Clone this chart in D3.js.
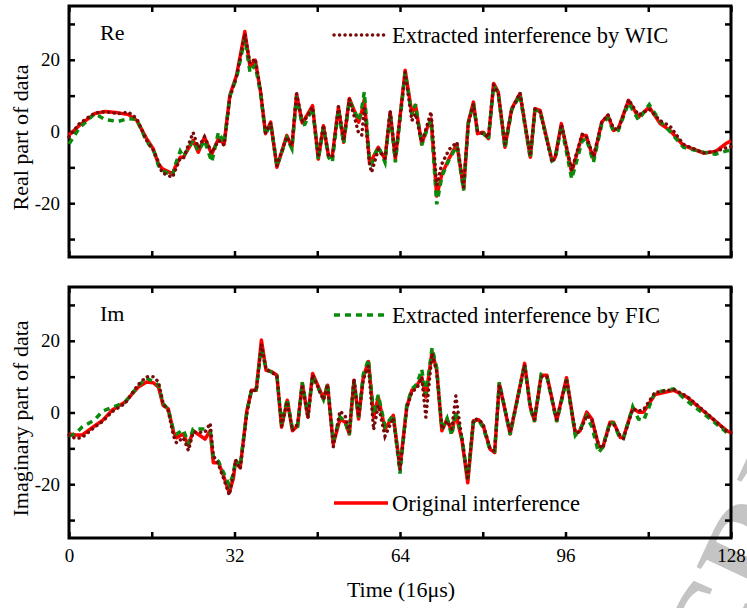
<!DOCTYPE html>
<html>
<head>
<meta charset="utf-8">
<script src="https://cdn.jsdelivr.net/npm/d3@7"></script>
<style>
  body { margin: 0; background: #fff; }
  svg { display: block; }
  text { font-family: "Liberation Serif", "Times New Roman", serif; fill: #000; }
</style>
</head>
<body>
<div id="chart"></div>
<script>
// ---- data (time in units of 16us) ----
var reTime = [0, 2, 5, 7, 9.5, 11.5, 13.1, 15, 16.3, 17.3, 18, 20, 20.5, 21.5, 22.1, 24, 25, 26.2, 27.6, 28.9,
  30, 31.1, 32.4, 34, 35, 36, 37, 38, 39, 40.2, 42.1, 43.1, 44, 45.1, 45.6, 47.1, 48.2, 49.2, 50.2, 50.9,
  52.1, 53.1, 54.2, 55.2, 56, 56.6, 57.1, 58.1, 58.5, 59.8, 61.1, 62.1, 63.1, 65, 66.3, 67, 68.2, 69.2, 70, 71.1,
  72.1, 73.5, 75, 76.3, 77.2, 78.2, 79, 80.1, 81.1, 82.1, 83, 84.3, 85.6, 87.2, 89.2, 90.1, 91.1, 93.4, 94, 95.2,
  97.2, 99.2, 100, 101.4, 103, 104.2, 105.3, 106.2, 108.2, 110.1, 112.2, 114.3, 116.2, 118.8, 122.7, 125, 127.2, 128];
var reOriginal = [-1, 1.7, 5, 5.6, 5.2, 4.7, 3.1, -2, -4.9, -9.1, -10.3, -11.8, -10, -7.2, -7.2, -2.5, -5.8, -1.6, -6.3, -2,
  -3.5, 10.1, 15.7, 27.9, 18, 19.9, 11.5, -0.6, 2.6, -10, -1.1, -4.4, 10.4, 2.4, 3.5, 7.2, -7.7, 1.6, -7, -7,
  6.8, -3, 9.2, 5.6, 2.6, 5.5, 9, -8.6, -8, -4.4, -7.7, 5.4, -7.7, 17.1, 5, 7.3, -3.5, 0.8, 3.5, -18,
  -11.9, -7.5, -3.5, -16, 2.6, 8.2, -0.6, -0.2, -2, 13.4, 11, -4.4, 6.4, 10.6, -7.2, 6.4, 5.9, -8.1, -7.2, 2.2,
  -11.4, -1.1, -1.1, -7.7, 2.6, 4.5, 0.3, 0.8, 8.7, 4, 6.8, 2.2, 0.3, -3.9, -6, -5.6, -3.2, -2.6];
var reWIC = [-1.5, 2.2, 5.2, 5.5, 5, 5.4, 3.6, -2.5, -5.2, -8.5, -11.5, -12.8, -11, -7.5, -7.5, -0.3, -4.5, -1.5, -6, -2.5,
  -3.8, 9.5, 15.5, 27.2, 19, 20.3, 11.8, -0.4, 2.4, -9.5, -1.5, -4, 10.6, 2.8, 3.2, 6.8, -7.2, 1.8, -6.8, -7,
  7, -2.5, 9, 4, -0.5, -1, 6.5, -9, -11.4, -5, -7.5, 5.8, -7.3, 16.5, 3, 5, -3, 1.5, 5.5, -15,
  -9, -5, -3, -15.5, 2.2, 7.6, 0, -0.6, -1.6, 13, 10.6, -3.5, 6, 10.8, -6.8, 6.2, 5.4, -8.6, -7.4, 2,
  -10.8, -0.8, -1.3, -7, 2.4, 4.7, 0.8, 0.5, 8.9, 4.6, 6.2, 3, 1.5, -3.6, -6, -5.5, -4.5, -4.2];
var reFIC = [-3.5, 1, 5, 3.3, 2.8, 3.6, 3.4, -2.8, -5, -9.5, -10.8, -12.3, -9.5, -5.5, -7, -2.5, -5.5, -2.5, -8.5, -0.2,
  -3.2, 9.8, 15, 26, 16.5, 18.5, 11, -0.8, 2.2, -9.6, -1.8, -4.8, 9.8, 1.8, 2, 6.6, -7.8, 1.2, -7.2, -8.6,
  6.2, -3.4, 8.6, 5.8, 3, 6.5, 11, -8, -9, -4.2, -8.6, 5, -8.6, 16.4, 4.6, 7.6, -3.8, 0.5, 3.2, -20.3,
  -12.5, -7.8, -4, -16.4, 2.2, 7.8, -0.4, -0.5, -2.2, 12.8, 10.8, -4.8, 6, 10.2, -7.6, 6, 5.6, -8.2, -7.6, 1.6,
  -13.2, -2.8, -1.8, -8.6, 2, 3.8, 0, 0.3, 8, 3.2, 7.5, 2.8, 0, -4.4, -5.8, -6.3, -5.4, -5.2];

var imTime = [0, 1.3, 2.5, 5, 6.5, 8.3, 10.8, 13.4, 15, 16.3, 17.3, 18.2, 19.2, 20.2, 20.8, 22.1, 23.1, 24, 26.3, 27.3,
  27.9, 28.9, 29.8, 31, 31.8, 32.2, 33.1, 34.4, 35.3, 36.2, 37.2, 38.1, 39.2, 40.2, 41.1, 42.2, 43.2, 44.2, 45.1, 46.2,
  47.1, 49.2, 50, 51.1, 52.4, 53.4, 54.2, 55.1, 56, 56.9, 57.9, 58.9, 59.8, 61.1, 62.7, 64, 65.3, 66.3, 67.3, 68.2,
  69, 70.2, 71.1, 72.1, 73.1, 74, 74.8, 76, 77.1, 78.2, 79.2, 80.1, 81.4, 82.3, 83.2, 85.3, 88.1, 89.2, 90, 91.3,
  92.4, 94.3, 96.2, 97.9, 98.8, 100.1, 101.1, 102.4, 103.2, 104.6, 105.3, 106.6, 107.2, 109, 110.1, 111.1, 113.3, 116.9, 119.5, 123.3,
  127.2, 128];
var imOriginal = [-6, -6.3, -6.3, -3.7, -2.2, 0.6, 2.9, 7.1, 8.5, 8.3, 7.1, 2, 1, -5.5, -7, -6, -9.3, -5.1, -7.4, -5.1,
  -14, -14, -17.3, -22.4, -18.2, -13.5, -15.4, 0.6, 6.2, 6.2, 20.2, 11.8, 11.4, 10.4, -4.1, 3.4, -5.1, -3.7, 8.1, -1.3,
  10.9, 3.9, 7.6, -8.8, -1.8, -2.7, -6, 9, -1.8, 9.9, 14.2, -1.3, 4.3, -4.6, -0.8, -15.4, 1.5, 6.2, 7.6, 9.9,
  4.3, 17, 11.8, -5.1, -1.8, -5.5, -0.4, -7.9, -19.6, -2.3, -2, -3.7, -10.2, -11.2, 8.1, -6, 13.7, 1.5, -2.3, 10.4,
  10.4, -2.3, 9.7, -6, -5.1, 0.1, -1.8, -9.3, -9.8, -2.7, -2.7, -7, -7, 1.3, 0.1, 0.1, 5, 6.2, 4.3, -0.4,
  -5.1, -5.6];
var imWIC = [-6.3, -7.3, -7, -4, -2.5, 0.2, 2.5, 7.8, 10, 10, 8.5, 2.5, 0.4, -6.5, -8.5, -7, -10.6, -5.5, -5.5, -3,
  -12, -14.5, -18, -23, -17, -13.2, -15.8, 0, 6.5, 6, 19, 12, 11.2, 10.2, -3.8, 3, -5, -3.2, 7.8, -1.6,
  10.5, 3.5, 7.8, -9.6, 0.4, -1, -5.5, 9.4, -1.2, 9.2, 13, -4.8, 2, -6.6, -1.5, -15.9, 1.2, 5.8, 6.8, 9.8,
  -1.3, 16.5, 11.4, -4.6, -2.4, -4.6, 4.6, -7.6, -18.8, -2, -1.8, -3.4, -10, -10.8, 7.8, -5.6, 13.2, 1.8, -2, 10,
  10, -2, 9.4, -5.6, -5.4, -0.8, -2, -9, -10, -3.2, -3.2, -6.6, -7.2, 1, 0.4, 0.8, 5.6, 6.4, 4.5, -0.2,
  -5.2, -5.6];
var imFIC = [-6.6, -5.8, -4.1, -2, 0.4, 1.4, 2.8, 7.4, 9.6, 8.6, 7.6, 2.5, 0.8, -5, -6, -4.8, -8.6, -4.6, -4.6, -5,
  -12.5, -13.6, -16.5, -20.3, -17, -13.2, -15, 0.3, 6.4, 6.4, 18, 12.2, 11.2, 10.2, -3.2, 3.8, -4.6, -3.9, 8.4, -0.8,
  10.2, 3.6, 8, -8, -1.2, -2.6, -6.2, 8.8, -1.4, 10.6, 14.8, -0.5, 4.9, -3.9, -0.6, -17, 2, 6.6, 8, 12,
  5, 18, 12.4, -4.6, -1.6, -6.4, 0.2, -7.4, -18.6, -2.6, -2.2, -4.2, -10.4, -10.8, 8.4, -6.2, 13.4, 1.2, -2.6, 10.6,
  10, -2.6, 9.2, -6.4, -4.8, -1, -4, -11.2, -9.6, -2.6, -3, -7.4, -7.2, 1.6, -1.8, -2.2, 5.6, 6.6, 3.2, -1,
  -5.6, -6];

var xTicks = [0, 16, 32, 48, 64, 80, 96, 112, 128];
var xLabels = [0, 32, 64, 96, 128];
var yTicks = [-30, -20, -10, 0, 10, 20, 30];
var yLabels = [-20, 0, 20];

var W = 747, H = 608;
var left = 69, right = 731;

var svg = d3.select("#chart").append("svg")
  .attr("width", W)
  .attr("height", H);

var x = d3.scaleLinear().domain([0, 128]).range([left, right]);

var red = "#ff0000", darkRed = "#7a0a0a", green = "#0a8a0a";

// watermark sits behind the plots
var wm = svg.append("text")
  .attr("transform", "translate(733,690) rotate(-65)")
  .style("font-size", "130px").style("font-weight", "bold").style("fill", "#c4c4c4")
  .text("ACCEPTED MANUSCRIPT");
wm.attr("x", -wm.node().getSubStringLength(0, 14));

function drawPanel(top, bottom, times, orig, wic, fic, tag, yTitle, showX) {
  var y = d3.scaleLinear().domain([-35, 35]).range([bottom, top]);
  var g = svg.append("g");

  // ticks (all pointing inward)
  var fmtY = function(d) { return yLabels.indexOf(d) >= 0 ? String(d) : ""; };
  var fmtX = function(d) { return showX && xLabels.indexOf(d) >= 0 ? String(d) : ""; };

  var ax = [
    g.append("g").attr("transform", "translate(0," + bottom + ")")
      .call(d3.axisBottom(x).tickValues(xTicks).tickSize(-6).tickPadding(11).tickFormat(fmtX)),
    g.append("g").attr("transform", "translate(0," + top + ")")
      .call(d3.axisTop(x).tickValues(xTicks).tickSize(-6).tickFormat("")),
    g.append("g").attr("transform", "translate(" + left + ",0)")
      .call(d3.axisLeft(y).tickValues(yTicks).tickSize(-6).tickPadding(9).tickFormat(fmtY)),
    g.append("g").attr("transform", "translate(" + right + ",0)")
      .call(d3.axisRight(y).tickValues(yTicks).tickSize(-6).tickFormat(""))
  ];
  ax.forEach(function(a) {
    a.select(".domain").remove();
    a.selectAll(".tick line").attr("stroke", "#000").attr("stroke-width", 2.5);
    a.selectAll(".tick text").style("font-size", "19px").style("font-family", '"Liberation Serif", serif').attr("fill", "#000");
  });

  // frame
  g.append("rect")
    .attr("x", left).attr("y", top)
    .attr("width", right - left).attr("height", bottom - top)
    .attr("fill", "none").attr("stroke", "#000").attr("stroke-width", 3);

  var line = d3.line().x(function(d) { return x(d[0]); }).y(function(d) { return y(d[1]); });
  var zip = function(vals) { return times.map(function(t, i) { return [t, vals[i]]; }); };

  g.append("path").datum(zip(orig)).attr("d", line)
    .attr("fill", "none").attr("stroke", red).attr("stroke-width", 3.5).attr("stroke-linejoin", "round");
  g.append("path").datum(zip(fic)).attr("d", line)
    .attr("fill", "none").attr("stroke", green).attr("stroke-width", 3.5)
    .attr("stroke-dasharray", "6,5");
  g.append("path").datum(zip(wic)).attr("d", line)
    .attr("fill", "none").attr("stroke", darkRed).attr("stroke-width", 3.5)
    .attr("stroke-linecap", "round").attr("stroke-dasharray", "0.1,5.4");

  g.append("text").attr("x", 100).attr("y", top + 34).style("font-size", "22px").text(tag);

  g.append("text")
    .attr("transform", "translate(28," + ((top + bottom) / 2 + 6) + ") rotate(-90)")
    .attr("text-anchor", "middle").style("font-size", "22px").text(yTitle);

  return y;
}

drawPanel(6, 257, reTime, reOriginal, reWIC, reFIC, "Re", "Real part of data", false);
drawPanel(287, 538, imTime, imOriginal, imWIC, imFIC, "Im", "Imaginary part of data", true);

// legends
function legendItem(yPos, color, dash, cap, label) {
  svg.append("line").attr("x1", 334).attr("x2", 388).attr("y1", yPos).attr("y2", yPos)
    .attr("stroke", color).attr("stroke-width", 3.5)
    .attr("stroke-dasharray", dash).attr("stroke-linecap", cap);
  svg.append("text").attr("x", 392).attr("y", yPos + 8).style("font-size", "22.5px").text(label);
}
legendItem(35, darkRed, "0.1,5.4", "round", "Extracted interference by WIC");
legendItem(315, green, "6,5", "butt", "Extracted interference by FIC");
legendItem(503, red, null, "butt", "Original interference");

// x axis title
svg.append("text").attr("x", 401).attr("y", 597).attr("text-anchor", "middle")
  .style("font-size", "22px").text("Time (16\u03bcs)");
</script>
</body>
</html>
